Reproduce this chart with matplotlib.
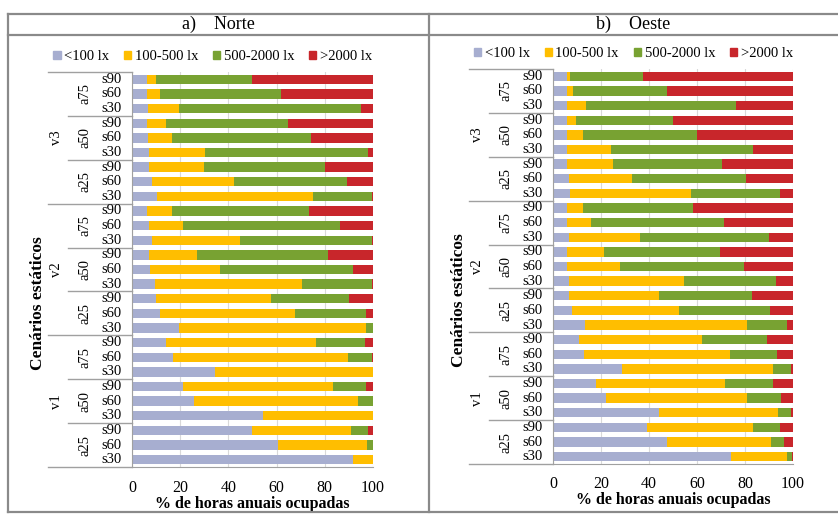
import numpy as np
import matplotlib
matplotlib.use("Agg")
import matplotlib.pyplot as plt
from matplotlib.lines import Line2D
from matplotlib.patches import Patch
from matplotlib.transforms import blended_transform_factory

plt.rcParams["font.family"] = ["Liberation Serif", "DejaVu Serif"]

# Category hierarchy (top to bottom as drawn)
v_groups = ["v3", "v2", "v1"]
a_groups = ["a75", "a50", "a25"]
s_labels = ["s90", "s60", "s30"]

series_names = ["<100 lx", "100-500 lx", "500-2000 lx", ">2000 lx"]
colors = ["#A7AED0", "#FFBE00", "#78A232", "#C8262B"]

# a) Norte, % of occupied annual hours per class (top bar first)
norte_lt100 = [6.2, 6.2, 6.8, 6.2, 6.8, 7.2, 7.2, 8.1, 10.3,
               6.2, 6.9, 8.1, 7.1, 7.4, 9.4, 9.9, 11.7, 19.6,
               14.2, 17.1, 34.3, 21.3, 25.8, 54.4, 49.9, 60.4, 91.8]
norte_100_500 = [3.9, 5.3, 12.6, 8.0, 9.9, 23.1, 22.7, 34.4, 65.0,
                 10.2, 14.2, 36.6, 20.0, 29.1, 61.2, 47.9, 55.8, 77.6,
                 62.2, 72.6, 65.7, 62.0, 67.8, 45.6, 41.1, 37.2, 8.2]
norte_500_2000 = [39.8, 50.2, 75.6, 50.5, 57.6, 67.7, 50.2, 46.8, 24.4,
                  57.1, 65.0, 55.0, 54.4, 55.0, 29.1, 32.1, 29.6, 2.8,
                  20.1, 10.0, 0.0, 13.8, 6.4, 0.0, 7.0, 2.4, 0.0]
norte_gt2000 = [50.1, 38.3, 5.0, 35.3, 25.7, 2.0, 19.9, 10.7, 0.3,
                26.5, 13.9, 0.3, 18.5, 8.5, 0.3, 10.1, 2.9, 0.0,
                3.5, 0.3, 0.0, 2.9, 0.0, 0.0, 2.0, 0.0, 0.0]

# b) Oeste
oeste_lt100 = [5.8, 5.8, 5.8, 5.8, 5.8, 5.8, 5.8, 6.5, 6.9,
               5.8, 5.8, 6.5, 5.8, 5.8, 6.8, 6.8, 8.0, 13.3,
               10.7, 12.8, 28.8, 18.0, 21.9, 44.1, 39.3, 47.3, 74.3]
oeste_100_500 = [1.4, 2.4, 7.8, 3.9, 6.5, 18.3, 19.3, 26.4, 50.8,
                 6.5, 10.0, 29.8, 15.6, 22.2, 47.7, 37.3, 44.4, 67.6,
                 51.4, 61.0, 63.0, 53.6, 59.0, 49.8, 44.1, 43.7, 23.1]
oeste_500_2000 = [30.5, 39.5, 62.5, 40.2, 47.6, 59.3, 45.4, 47.5, 36.8,
                  46.2, 55.5, 53.7, 48.1, 51.6, 38.4, 39.0, 38.0, 16.5,
                  27.1, 19.5, 7.2, 20.1, 14.2, 5.1, 11.3, 5.3, 2.2]
oeste_gt2000 = [62.3, 52.3, 23.9, 50.1, 40.1, 16.6, 29.5, 19.6, 5.5,
                41.5, 28.7, 10.0, 30.5, 20.4, 7.1, 16.9, 9.6, 2.6,
                10.8, 6.7, 1.0, 8.3, 4.9, 1.0, 5.3, 3.7, 0.4]

panels = [
    ("a)    Norte", [norte_lt100, norte_100_500, norte_500_2000, norte_gt2000]),
    ("b)    Oeste", [oeste_lt100, oeste_100_500, oeste_500_2000, oeste_gt2000]),
]

W, H = 838, 515
fig = plt.figure(figsize=(W / 100, H / 100), dpi=100)

# axes boxes in pixels: (left, top, right, bottom)
boxes = [(132, 72, 373, 467), (553, 69, 793, 464)]
title_x = [218, 633]
frame_col = "#8a8a8a"


def fx(px):
    return px / W


def fy(py):
    return 1 - py / H


# outer table frame
for x0, y0, x1, y1 in [(8, 14, W, 14), (8, 35, W, 35), (8, 512, W, 512),
                       (8, 14, 8, 512), (429, 14, 429, 512)]:
    fig.add_artist(Line2D([fx(x0), fx(x1)], [fy(y0), fy(y1)],
                          color=frame_col, lw=1.6))

n = len(v_groups) * len(a_groups) * len(s_labels)
ypos = np.arange(n)
line_col = "#a0a0a0"

for (title, series), (l, t, r, b), tx in zip(panels, boxes, title_x):
    fig.text(fx(tx), fy(24.5), title, ha="center", va="center", fontsize=13)
    ax = fig.add_axes([fx(l), fy(b), fx(r - l), (b - t) / H])

    left = np.zeros(n)
    for vals, col, name in zip(series, colors, series_names):
        vals = np.asarray(vals)
        ax.barh(ypos, vals, left=left, height=0.64, color=col,
                label=name, zorder=2)
        left += vals

    ax.set_xlim(0, 100)
    ax.set_ylim(n - 0.5, -0.5)
    ax.set_xticks([0, 20, 40, 60, 80, 100])
    ax.tick_params(axis="x", length=0, labelsize=11.5, pad=9)
    ax.set_yticks([])
    ax.grid(axis="x", color="#d9d9d9", lw=0.8, zorder=0)
    for side in ["top", "right"]:
        ax.spines[side].set_visible(False)
    ax.spines["left"].set_color(line_col)
    ax.spines["bottom"].set_color(line_col)
    ax.set_xlabel("% de horas anuais ocupadas", fontsize=11.5,
                  fontweight="bold", labelpad=0)

    trans = blended_transform_factory(ax.transAxes, ax.transData)
    sx, ax_x, vx = -0.085, -0.195, -0.315
    v_start, a_start = -0.35, -0.265

    # hierarchical category labels
    k = 0
    for vi, v in enumerate(v_groups):
        for ai, a in enumerate(a_groups):
            for s in s_labels:
                ax.text(sx, k, s, transform=trans, ha="center", va="center",
                        fontsize=10.5, clip_on=False)
                k += 1
            ax.text(ax_x, k - 2, a, transform=trans, ha="center",
                    va="center", rotation=90, fontsize=10.5, clip_on=False)
            if ai < len(a_groups) - 1:
                ax.add_line(Line2D([a_start, 0], [k - 0.5, k - 0.5],
                                   transform=trans, color=line_col, lw=1,
                                   clip_on=False))
        ax.text(vx, k - 5, v, transform=trans, ha="center", va="center",
                rotation=90, fontsize=10.5, clip_on=False)
        ax.add_line(Line2D([v_start, 0], [k - 0.5, k - 0.5],
                           transform=trans, color=line_col, lw=1,
                           clip_on=False))
    ax.add_line(Line2D([v_start, 0], [-0.5, -0.5], transform=trans,
                       color=line_col, lw=1, clip_on=False))

    ax.text(-0.39, 15.3, "Cenários estáticos", transform=trans,
            ha="center", va="center", rotation=90, fontsize=12.5,
            fontweight="bold", clip_on=False)

    handles = [Patch(color=c) for c in colors]
    ax.legend(handles, series_names, loc="center",
              bbox_to_anchor=(0.335, 1.038), ncol=4, frameon=False,
              fontsize=10.5, handlelength=0.5, handleheight=0.5,
              handletextpad=0.25, columnspacing=1.0, borderpad=0)

fig.savefig("out.png", dpi=100)
